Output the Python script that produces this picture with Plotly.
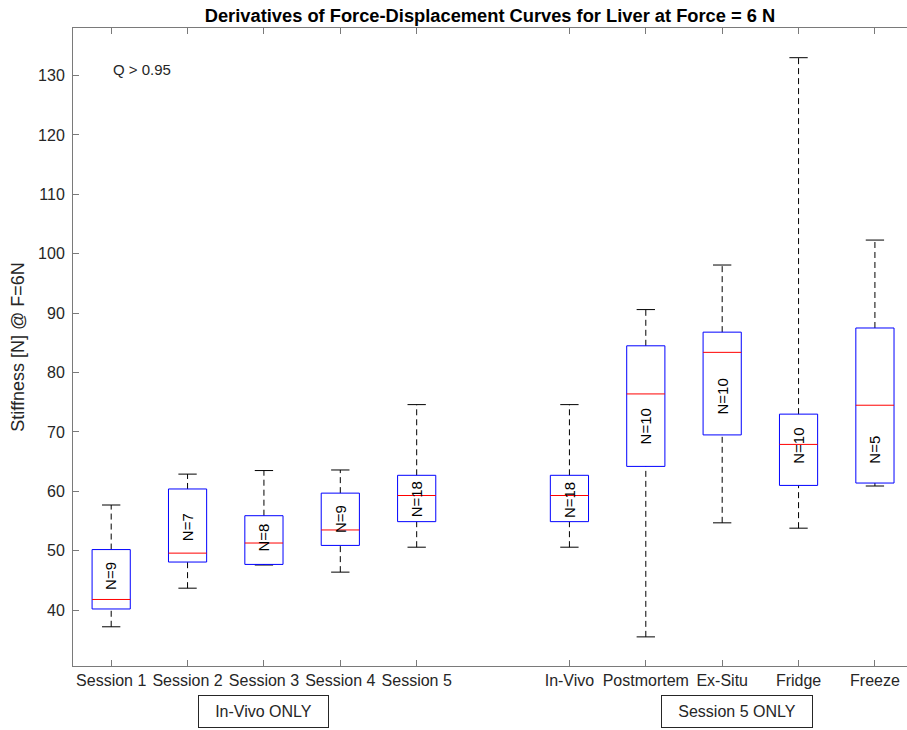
import plotly.graph_objects as go

# Groups and their positions on the category axis (gap between the two blocks)
categories = ["Session 1", "Session 2", "Session 3", "Session 4", "Session 5",
              "In-Vivo", "Postmortem", "Ex-Situ", "Fridge", "Freeze"]
positions = [1, 2, 3, 4, 5, 7, 8, 9, 10, 11]

# Box-plot statistics of stiffness [N] at F = 6 N
upper_whisker = [57.7, 62.9, 63.5, 63.6, 74.6, 74.6, 90.6, 98.1, 133.0, 102.3]
q3 = [50.2, 60.4, 55.9, 59.7, 62.7, 62.7, 84.5, 86.8, 73.0, 87.5]
median = [41.8, 49.6, 51.3, 53.5, 59.3, 59.3, 76.4, 83.4, 67.9, 74.5]
q1 = [40.2, 48.1, 47.7, 50.9, 54.9, 54.9, 64.2, 69.5, 61.0, 61.4]
lower_whisker = [37.2, 43.7, 47.6, 46.4, 50.6, 50.6, 35.5, 54.7, 53.8, 60.9]
means = [45.8, 53.9, 52.2, 55.4, 58.6, 58.6, 70.9, 76.0, 67.6, 67.0]
n_samples = [9, 7, 8, 9, 18, 18, 10, 10, 10, 5]

y_ticks = [40, 50, 60, 70, 80, 90, 100, 110, 120, 130]

BOX_HALF = 0.25
CAP_HALF = 0.12
FONT = "Liberation Sans, Arial, sans-serif"
INK = "#262626"

box_x, box_y = [], []
med_x, med_y = [], []
whisk_x, whisk_y = [], []
cap_x, cap_y = [], []
for x, lo, a, m, b, hi in zip(positions, lower_whisker, q1, median, q3, upper_whisker):
    box_x += [x - BOX_HALF, x + BOX_HALF, x + BOX_HALF, x - BOX_HALF, x - BOX_HALF, None]
    box_y += [a, a, b, b, a, None]
    med_x += [x - BOX_HALF, x + BOX_HALF, None]
    med_y += [m, m, None]
    whisk_x += [x, x, None, x, x, None]
    whisk_y += [b, hi, None, lo, a, None]
    cap_x += [x - CAP_HALF, x + CAP_HALF, None, x - CAP_HALF, x + CAP_HALF, None]
    cap_y += [hi, hi, None, lo, lo, None]

fig = go.Figure()
fig.add_trace(go.Scatter(x=whisk_x, y=whisk_y, mode="lines", hoverinfo="skip",
                         line=dict(color="black", width=1, dash="6px,4px")))
fig.add_trace(go.Scatter(x=cap_x, y=cap_y, mode="lines", hoverinfo="skip",
                         line=dict(color="black", width=1)))
fig.add_trace(go.Scatter(x=box_x, y=box_y, mode="lines", hoverinfo="skip",
                         line=dict(color="#0000ff", width=1)))
fig.add_trace(go.Scatter(x=med_x, y=med_y, mode="lines", hoverinfo="skip",
                         line=dict(color="#ff0000", width=1)))

annotations = []
for x, mu, n in zip(positions, means, n_samples):
    annotations.append(dict(x=x, y=mu, xref="x", yref="y", text=f"N={n}",
                            textangle=-90, showarrow=False,
                            font=dict(family=FONT, size=15, color="black")))

annotations.append(dict(x=1, y=131.0, xref="x", yref="y", text="Q > 0.95",
                        xanchor="left", showarrow=False,
                        font=dict(family=FONT, size=15, color=INK)))

# Group labels under the category axis
for xc, label, w in [(3.0, "In-Vivo ONLY", 115), (9.2, "Session 5 ONLY", 136)]:
    annotations.append(dict(x=xc, y=-0.072, xref="x", yref="paper", text=label,
                            showarrow=False, xanchor="center", yanchor="middle",
                            width=w, bordercolor=INK, borderwidth=1,
                            borderpad=7, bgcolor="white",
                            font=dict(family=FONT, size=16, color=INK)))

fig.update_layout(
    width=907, height=730,
    margin=dict(l=73, r=0, t=28, b=64),
    paper_bgcolor="white", plot_bgcolor="white",
    showlegend=False,
    title=dict(text="<b>Derivatives of Force-Displacement Curves for Liver at Force = 6 N</b>",
               x=0.5, xref="paper", xanchor="center", y=0.979, yref="container",
               yanchor="middle",
               font=dict(family=FONT, size=18.3, color="black")),
    font=dict(family=FONT, size=16, color=INK),
    annotations=annotations,
)
fig.update_xaxes(range=[0.5, 11.42], tickvals=positions, ticktext=categories,
                 showgrid=False, zeroline=False, showline=True, linecolor="#7a7a7a",
                 linewidth=1, mirror="ticks", ticks="inside", ticklen=6,
                 tickcolor="#7a7a7a", tickfont=dict(family=FONT, size=16, color=INK))
fig.update_yaxes(range=[30.6, 138.0], tickvals=y_ticks,
                 showgrid=False, zeroline=False, showline=True, linecolor="#7a7a7a",
                 linewidth=1, ticks="inside", ticklen=6, tickcolor="#7a7a7a",
                 ticklabelstandoff=4,
                 title=dict(text="Stiffness [N] @ F=6N", standoff=8,
                            font=dict(family=FONT, size=18, color=INK)),
                 tickfont=dict(family=FONT, size=16, color=INK))

fig.write_html("out.html")
